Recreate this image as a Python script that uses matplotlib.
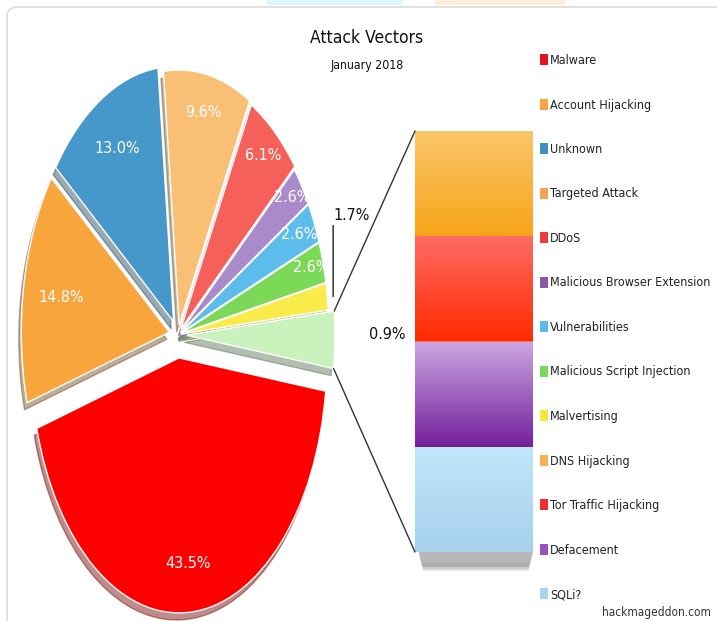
import numpy as np
import matplotlib.pyplot as plt
from matplotlib import font_manager
from matplotlib.patches import ConnectionPatch, FancyBboxPatch, Rectangle
from matplotlib.colors import to_rgb

# prefer a condensed sans face if one is installed
installed = font_manager.fontManager.ttflist
narrow = [f.name for f in installed if 'condensed' in f.stretch or 'Narrow' in f.name
          or 'Condensed' in f.name]
if narrow:
    plt.rcParams['font.family'] = [narrow[0], 'DejaVu Sans']
    plt.rcParams['font.stretch'] = 'condensed'
    size_scale = 1.0
else:
    plt.rcParams['font.family'] = ['Roboto', 'DejaVu Sans']
    size_scale = 0.85

# pie slices, anticlockwise starting from the grouped "other" slice
pie_labels = ['Other', 'Malvertising', 'Malicious Script Injection', 'Vulnerabilities',
              'Malicious Browser Extension', 'DDoS', 'Targeted Attack', 'Unknown',
              'Account Hijacking', 'Malware']
pie_values = [3.6, 1.7, 2.6, 2.6, 2.6, 6.1, 9.6, 13.0, 14.8, 43.5]
pie_colors = ['#c9f2bd', '#f9ec4a', '#7cd957', '#5cbdec', '#a98bcb',
              '#f6605a', '#f9bf74', '#4598c9', '#f9a53d', '#ff0000']

# breakdown of the "other" slice, top to bottom
other_labels = ['DNS Hijacking', 'Tor Traffic Hijacking', 'Defacement', 'SQLi?']
other_values = [0.9, 0.9, 0.9, 0.9]
other_top = ['#fbc66a', '#ff6c64', '#cba6e2', '#c0e6fa']
other_bottom = ['#f7a418', '#ff2a00', '#74209c', '#a6d0ec']

legend_labels = ['Malware', 'Account Hijacking', 'Unknown', 'Targeted Attack', 'DDoS',
                 'Malicious Browser Extension', 'Vulnerabilities',
                 'Malicious Script Injection', 'Malvertising', 'DNS Hijacking',
                 'Tor Traffic Hijacking', 'Defacement', 'SQLi?']
legend_colors = ['#e8101a', '#f9a53d', '#3f8fc4', '#f3a25a', '#ef3b3b', '#8a58a8',
                 '#5cbdec', '#7cd957', '#f5e63a', '#f7b050', '#f03030', '#9a50c0',
                 '#a8d4f0']

W, H = 717, 621
fig = plt.figure(figsize=(W / 100, H / 100), dpi=100)

# light frame and page bits around the chart
fig.patches.append(FancyBboxPatch((7 / W, -0.05), 1.0, 1 - 7 / H + 0.05,
                                  boxstyle='round,pad=0,rounding_size=0.015',
                                  transform=fig.transFigure, facecolor='white',
                                  edgecolor='#dcdcdc', lw=1.2, zorder=-2))
fig.patches.append(Rectangle((267 / W, 1 - 5 / H), 135 / W, 5 / H, transform=fig.transFigure,
                             facecolor='#ddf8fc', edgecolor='none', zorder=-2))
fig.patches.append(Rectangle((435 / W, 1 - 5 / H), 130 / W, 5 / H, transform=fig.transFigure,
                             facecolor='#fdeedd', edgecolor='none', zorder=-2))

# pie is stretched vertically: 148 px per unit across, 255 px per unit down
cx, cy, sx, sy = 178, 335, 148, 255
xl, yl = (-1.2, 1.2), (-1.12, 1.3)
ax_pie = fig.add_axes([(cx + xl[0] * sx) / W, (H - cy + yl[0] * sy) / H,
                       (xl[1] - xl[0]) * sx / W, (yl[1] - yl[0]) * sy / H])

explode = [0.06, 0.02, 0.02, 0.02, 0.02, 0.03, 0.04, 0.06, 0.06, 0.09]
wedges, _ = ax_pie.pie(pie_values, colors=pie_colors, explode=explode, startangle=-7.5,
                       counterclock=True, normalize=True,
                       wedgeprops=dict(edgecolor='white', linewidth=1),
                       shadow=dict(ox=-0.012, oy=-0.02, shade=0.55, alpha=0.45))
ax_pie.set_aspect('auto')
ax_pie.set_xlim(*xl)
ax_pie.set_ylim(*yl)
ax_pie.axis('off')

# white percentage labels inside the slices
fs = 11.5 * size_scale
label_r = [None, None, 0.92, 0.89, 0.92, 0.88, 0.85, 0.78, 0.74, 0.81]
for w, v, r in zip(wedges, pie_values, label_r):
    if r is None:
        continue
    mid = np.deg2rad((w.theta1 + w.theta2) / 2)
    x0, y0 = w.center
    ax_pie.text(x0 + r * np.cos(mid), y0 + r * np.sin(mid), f'{v:.1f}%',
                ha='center', va='center', color='white', fontsize=fs)

# malvertising label with a short leader line
w = wedges[1]
mid = np.deg2rad((w.theta1 + w.theta2) / 2)
px, py = w.center[0] + np.cos(mid) * 1.04, w.center[1] + np.sin(mid)
ax_pie.annotate(f'{pie_values[1]:.1f}%', xy=(px, py), xytext=(px, 0.44),
                ha='left', va='bottom', fontsize=fs, color='#111111',
                arrowprops=dict(arrowstyle='-', relpos=(0, 0), shrinkA=0, shrinkB=0,
                                lw=1, color='#222222'))

# stacked bar breaking down the "other" slice
ax_bar = fig.add_axes([415 / W, (H - 552) / H, 118 / W, 421 / H])
total = sum(other_values)
bottom = total
for val, c_top, c_bot in zip(other_values, other_top, other_bottom):
    bottom -= val
    bar = ax_bar.bar(0, val, bottom=bottom, width=1, color=c_top, edgecolor='none')[0]
    grad = np.linspace(0, 1, 64)[:, None, None]
    img = (np.array(to_rgb(c_bot))[None, None, :] * (1 - grad)
           + np.array(to_rgb(c_top))[None, None, :] * grad)
    im = ax_bar.imshow(img, extent=(-0.5, 0.5, bottom, bottom + val), origin='lower',
                       aspect='auto', zorder=2)
    im.set_clip_path(bar)

# soft shadow under the bar
for k in range(10):
    ax_bar.add_patch(Rectangle((-0.47 + k * 0.004, -0.02 - k * 0.016), 0.97 - k * 0.008, 0.05,
                               facecolor='#303030', alpha=0.13, edgecolor='none',
                               clip_on=False, zorder=1))
ax_bar.set_xlim(-0.5, 0.5)
ax_bar.set_ylim(0, total)
ax_bar.axis('off')
ax_bar.text(-0.1 / 1.18 - 0.5, total / 2 + 0.06, f'{other_values[1]:.1f}%', ha='right',
            va='center', fontsize=fs, color='#111111')

# lines joining the "other" slice to the bar
w = wedges[0]
for ang, ybar in ((w.theta2, total), (w.theta1, 0)):
    t = np.deg2rad(ang)
    con = ConnectionPatch(xyA=(w.center[0] + np.cos(t), w.center[1] + np.sin(t)),
                          coordsA=ax_pie.transData, xyB=(-0.5, ybar),
                          coordsB=ax_bar.transData, color='#333333', lw=1)
    fig.add_artist(con)

leg_fs = 9.0 * size_scale
handles = [Rectangle((0, 0), 1, 1, facecolor=c, edgecolor='none') for c in legend_colors]
fig.legend(handles, legend_labels, loc='upper left', bbox_to_anchor=(535 / W, 1 - 49 / H),
           frameon=False, fontsize=leg_fs, handlelength=0.6, handleheight=0.95,
           handletextpad=0.2, labelspacing=31.5 / (leg_fs * 100 / 72), borderaxespad=0,
           labelcolor='#222222')

fig.text(367 / W, 1 - 38 / H, 'Attack Vectors', ha='center', va='center',
         fontsize=12.5 * size_scale, color='#111111')
fig.text(367 / W, 1 - 66 / H, 'January 2018', ha='center', va='center',
         fontsize=8.8 * size_scale, color='#111111')
fig.text(711 / W, 2 / H, 'hackmageddon.com', ha='right', va='bottom',
         fontsize=8.5 * size_scale, color='#333333')

fig.savefig('out.png', dpi=100)
